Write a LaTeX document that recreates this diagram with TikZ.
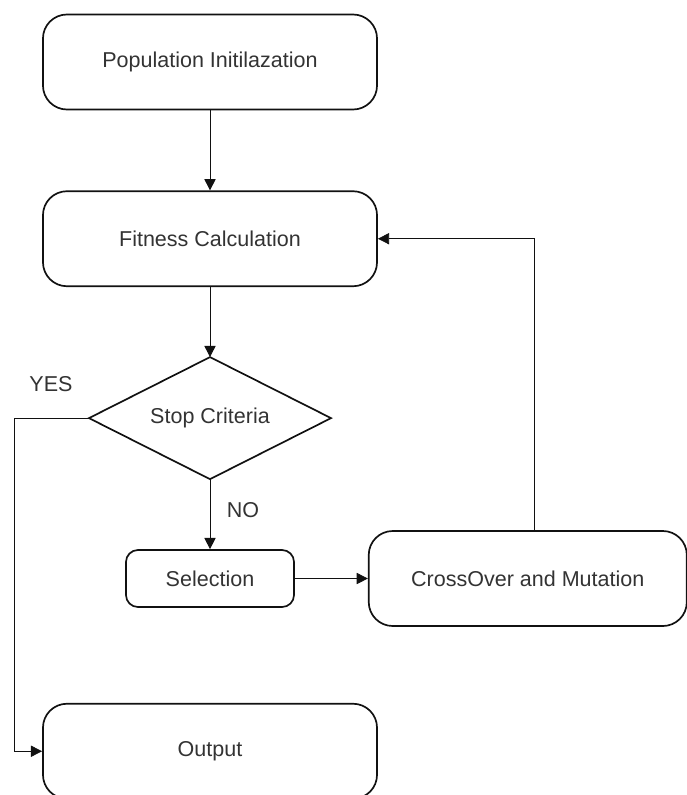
\documentclass[tikz,border=0pt]{standalone}
\usepackage{fontspec}
\setmainfont{Liberation Sans}
\usepackage{xcolor}
\usepackage{tikz}
\usetikzlibrary{arrows.meta,positioning,shapes.geometric}
\definecolor{Ink}{HTML}{111111}
\definecolor{TextGrey}{HTML}{333333}

\begin{document}
\begin{tikzpicture}[
  x=0.025cm,y=-0.025cm,
  every node/.style={font=\fontsize{15.3}{18}\selectfont,text=TextGrey},
  procbox/.style={rounded corners=0.6cm,draw=Ink,line width=1.2pt,minimum width=8.35cm,minimum height=2.375cm,inner sep=0pt},
  smallbox/.style={rounded corners=0.3cm,draw=Ink,line width=1.2pt,minimum width=4.2cm,minimum height=1.425cm,inner sep=0pt},
  decide/.style={diamond,aspect=2,draw=Ink,line width=1.2pt,minimum width=6.05cm,minimum height=3.05cm,inner sep=0pt,outer sep=0pt},
  arr/.style={-{Triangle[length=2.8mm,width=2.8mm]},line width=0.6pt,Ink}
]
\useasboundingbox (0,0) rectangle (686,795);
\node[procbox] (pop) at (210,62) {Population Initilazation};
\node[procbox,below=2cm of pop] (fit) {Fitness Calculation};
\node[decide,below=1.75cm of fit] (crit) {Stop Criteria};
\node[smallbox,below=1.75cm of crit] (sel) {Selection};
\node[procbox,right=1.825cm of sel,minimum width=7.95cm] (cross) {CrossOver and Mutation};
\node[procbox,below=2.375cm of sel] (out) {Output};
\node (yes) at (51,384) {YES};
\node (no) at (243,510) {NO};
\coordinate (yesbend) at (14,0);
\draw[arr] (pop)--(fit); \draw[arr] (fit)--(crit); \draw[arr] (crit)--(sel);
\draw[arr] (sel)--(cross);
\draw[arr] ([xshift=1.75mm]cross.north) |- (fit.east);
\draw[arr] (crit.west) -- (crit.west -| yesbend) |- (out.west);
\end{tikzpicture}
\end{document}
